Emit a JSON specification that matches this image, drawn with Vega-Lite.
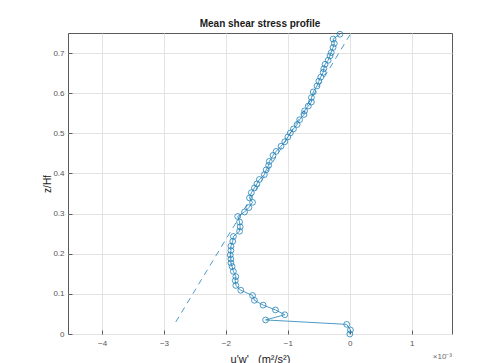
{
  "$schema": "https://vega.github.io/schema/vega-lite/v6.json",
  "width": 384,
  "height": 301,
  "autosize": "none",
  "padding": {"left": 68, "top": 33, "right": 34, "bottom": 29},
  "background": "white",
  "title": {"text": "Mean shear stress profile", "fontSize": 10, "fontWeight": "bold", "font": "Liberation Sans", "color": "#1a1a1a", "offset": 1, "anchor": "middle"},
  "config": {
    "view": {"stroke": "#5a5a5a", "strokeWidth": 1},
    "axis": {
      "labelFont": "Liberation Sans", "labelFontSize": 8, "labelColor": "#555555",
      "titleFont": "Liberation Sans", "titleFontSize": 11, "titleFontWeight": "normal", "titleColor": "#1a1a1a",
      "domain": false, "tickColor": "#5a5a5a", "tickSize": -4, "tickWidth": 1,
      "gridColor": "#e3e3e3", "gridWidth": 1
    }
  },
  "datasets": {
    "profile": [
      {"uw": 0.00, "z": 0.000},
      {"uw": 0.01, "z": 0.010},
      {"uw": -0.05, "z": 0.024},
      {"uw": -1.36, "z": 0.035},
      {"uw": -1.05, "z": 0.048},
      {"uw": -1.20, "z": 0.060},
      {"uw": -1.40, "z": 0.072},
      {"uw": -1.54, "z": 0.084},
      {"uw": -1.57, "z": 0.096},
      {"uw": -1.76, "z": 0.109},
      {"uw": -1.84, "z": 0.121},
      {"uw": -1.85, "z": 0.133},
      {"uw": -1.84, "z": 0.143},
      {"uw": -1.88, "z": 0.156},
      {"uw": -1.90, "z": 0.168},
      {"uw": -1.92, "z": 0.177},
      {"uw": -1.92, "z": 0.187},
      {"uw": -1.93, "z": 0.197},
      {"uw": -1.92, "z": 0.208},
      {"uw": -1.92, "z": 0.219},
      {"uw": -1.89, "z": 0.231},
      {"uw": -1.88, "z": 0.243},
      {"uw": -1.78, "z": 0.256},
      {"uw": -1.77, "z": 0.267},
      {"uw": -1.78, "z": 0.279},
      {"uw": -1.81, "z": 0.293},
      {"uw": -1.70, "z": 0.304},
      {"uw": -1.63, "z": 0.315},
      {"uw": -1.57, "z": 0.328},
      {"uw": -1.62, "z": 0.339},
      {"uw": -1.59, "z": 0.352},
      {"uw": -1.54, "z": 0.364},
      {"uw": -1.50, "z": 0.374},
      {"uw": -1.46, "z": 0.385},
      {"uw": -1.38, "z": 0.397},
      {"uw": -1.35, "z": 0.409},
      {"uw": -1.31, "z": 0.420},
      {"uw": -1.30, "z": 0.430},
      {"uw": -1.24, "z": 0.445},
      {"uw": -1.19, "z": 0.455},
      {"uw": -1.11, "z": 0.468},
      {"uw": -1.05, "z": 0.479},
      {"uw": -1.00, "z": 0.491},
      {"uw": -0.96, "z": 0.501},
      {"uw": -0.91, "z": 0.511},
      {"uw": -0.85, "z": 0.522},
      {"uw": -0.81, "z": 0.534},
      {"uw": -0.74, "z": 0.547},
      {"uw": -0.73, "z": 0.556},
      {"uw": -0.67, "z": 0.568},
      {"uw": -0.62, "z": 0.578},
      {"uw": -0.62, "z": 0.589},
      {"uw": -0.59, "z": 0.603},
      {"uw": -0.53, "z": 0.618},
      {"uw": -0.50, "z": 0.630},
      {"uw": -0.47, "z": 0.640},
      {"uw": -0.43, "z": 0.652},
      {"uw": -0.42, "z": 0.661},
      {"uw": -0.40, "z": 0.672},
      {"uw": -0.35, "z": 0.682},
      {"uw": -0.32, "z": 0.693},
      {"uw": -0.30, "z": 0.701},
      {"uw": -0.27, "z": 0.714},
      {"uw": -0.25, "z": 0.724},
      {"uw": -0.27, "z": 0.735},
      {"uw": -0.16, "z": 0.747}
    ],
    "fit": [
      {"uw": -2.81, "z": 0.03},
      {"uw": 0.02, "z": 0.75}
    ],
    "note": [{"label": "×10⁻³"}]
  },
  "layer": [
    {
      "data": {"name": "fit"},
      "mark": {"type": "line", "strokeDash": [6, 5], "strokeWidth": 0.8, "color": "#1f80b8", "clip": true},
      "encoding": {
        "x": {"field": "uw", "type": "quantitative", "scale": {"domain": [-4.55, 1.65], "nice": false, "zero": false},
              "axis": {"values": [-4, -3, -2, -1, 0, 1], "format": "d", "title": "u'w'\u00a0\u00a0\u00a0(m²/s²)", "titlePadding": 6, "labelPadding": 9}},
        "y": {"field": "z", "type": "quantitative", "scale": {"domain": [0, 0.75], "nice": false},
              "axis": {"values": [0, 0.1, 0.2, 0.3, 0.4, 0.5, 0.6, 0.7], "labelExpr": "datum.value == 0 ? '0' : format(datum.value, '.1f')", "title": "z/Hf", "titleFontSize": 10, "titlePadding": 0, "labelPadding": 8}},
        "order": {"field": "z"}
      }
    },
    {
      "data": {"name": "profile"},
      "mark": {"type": "line", "strokeWidth": 0.8, "color": "#1f80b8"},
      "encoding": {
        "x": {"field": "uw", "type": "quantitative"},
        "y": {"field": "z", "type": "quantitative"},
        "order": {"field": "z"}
      }
    },
    {
      "data": {"name": "profile"},
      "mark": {"type": "point", "shape": "circle", "filled": false, "size": 34, "strokeWidth": 0.8, "color": "#1f80b8", "opacity": 1},
      "encoding": {
        "x": {"field": "uw", "type": "quantitative"},
        "y": {"field": "z", "type": "quantitative"}
      }
    },
    {
      "data": {"name": "note"},
      "mark": {"type": "text", "align": "right", "baseline": "top", "dy": 19, "fontSize": 8, "font": "Liberation Sans", "color": "#666666", "clip": false},
      "encoding": {
        "x": {"datum": 1.65},
        "y": {"datum": 0},
        "text": {"field": "label"}
      }
    }
  ]
}
